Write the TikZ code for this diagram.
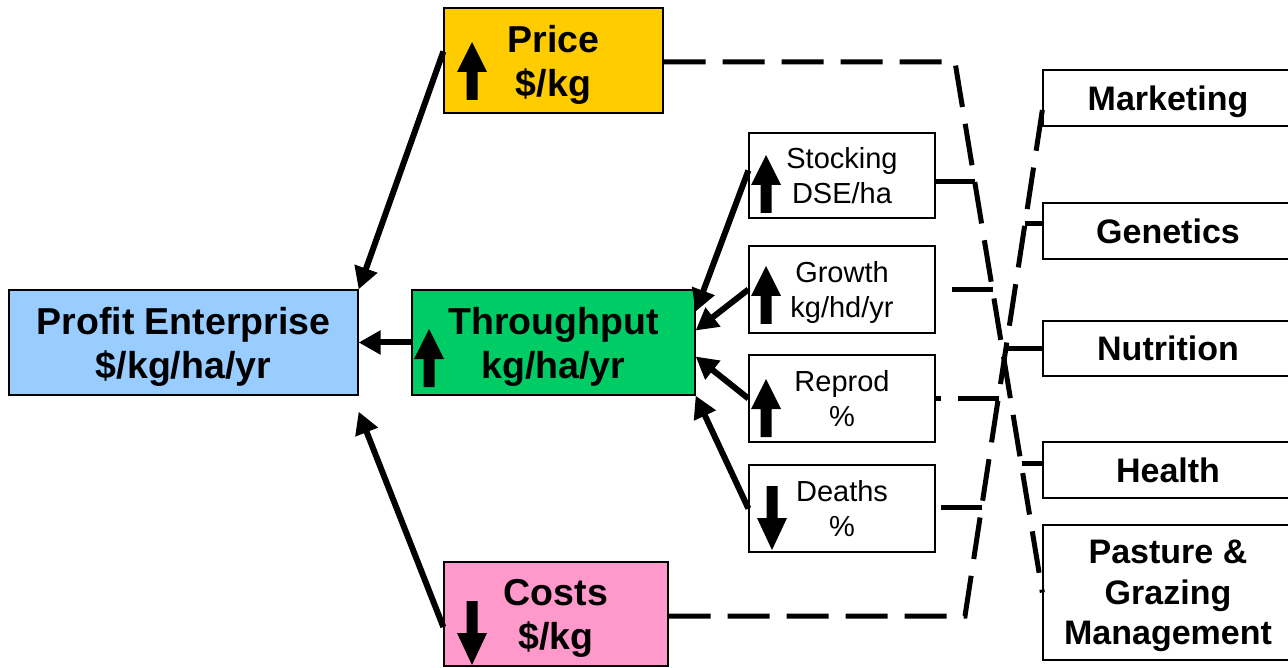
\documentclass[tikz,border=0pt]{standalone}
\usepackage{fontspec}
\setmainfont{Liberation Sans}
\usetikzlibrary{arrows.meta}
\definecolor{profitblue}{HTML}{99CCFF}
\definecolor{priceyellow}{HTML}{FFCC00}
\definecolor{thrugreen}{HTML}{00CC66}
\definecolor{costpink}{HTML}{FF99CC}
\begin{document}
\begin{tikzpicture}[x=1pt,y=-1pt,
  box/.style={draw=black, line width=1.3pt, inner sep=0pt, align=center, text depth=0pt},
  bigtxt/.style={font=\bfseries\fontsize{37.5}{44}\selectfont},
  righttxt/.style={font=\bfseries\fontsize{34}{40.5}\selectfont},
  smalltxt/.style={font=\fontsize{29}{35}\selectfont},
  arr/.style={line width=6pt, -{Triangle[length=22pt,width=23pt]}},
  dashline/.style={line width=5pt, dash pattern=on 42pt off 17pt},
  stub/.style={line width=5pt, dash pattern=on 41pt off 17pt},
  upblk/.pic={\fill (0,0) -- (15,30) -- (5.5,30) -- (5.5,58) -- (-5.5,58) -- (-5.5,30) -- (-15,30) -- cycle;},
  downblk/.pic={\fill (0,0) -- (15,-32) -- (5.5,-32) -- (5.5,-64) -- (-5.5,-64) -- (-5.5,-32) -- (-15,-32) -- cycle;}
]
\clip (0,0) rectangle (1288,668);
\fill[white] (0,0) rectangle (1288,668);

% main boxes
\node[box, bigtxt, fill=profitblue, minimum width=349pt, minimum height=105pt] (profit) at (183.5,342.5) {Profit Enterprise\\\$/kg/ha/yr};
\node[box, bigtxt, fill=thrugreen, minimum width=283pt, minimum height=105pt] (through) at (553.5,342.5) {Throughput\\kg/ha/yr};
\node[box, bigtxt, fill=priceyellow, minimum width=219pt, minimum height=105pt] (price) at (553.5,60.5) {Price\\\$/kg};
\node[box, bigtxt, fill=costpink, minimum width=224pt, minimum height=104pt] (costs) at (556,614) {Costs\\\$/kg};

% driver boxes
\node[box, smalltxt, fill=white, minimum width=186pt, minimum height=85pt] (stock) at (842,175.5) {Stocking\\DSE/ha};
\node[box, smalltxt, fill=white, minimum width=186pt, minimum height=87pt] (growth) at (842,289.5) {Growth\\kg/hd/yr};
\node[box, smalltxt, fill=white, minimum width=186pt, minimum height=87pt] (reprod) at (842,398.5) {Reprod\\\%};
\node[box, smalltxt, fill=white, minimum width=186pt, minimum height=87pt] (deaths) at (842,508.5) {Deaths\\\%};

% right boxes
\node[box, righttxt, fill=white, minimum width=250pt, minimum height=56pt] (marketing) at (1168,98) {Marketing};
\node[box, righttxt, fill=white, minimum width=250pt, minimum height=56pt] (genetics) at (1168,231) {Genetics};
\node[box, righttxt, fill=white, minimum width=250pt, minimum height=55pt] (nutrition) at (1168,348.5) {Nutrition};
\node[box, righttxt, fill=white, minimum width=250pt, minimum height=56pt] (health) at (1168,470) {Health};
\node[box, righttxt, fill=white, minimum width=250pt, minimum height=135pt] (pasture) at (1168,592.5) {Pasture \&\\Grazing\\Management};

% block arrows inside boxes
\pic at (472,42) {upblk};
\pic at (429,329) {upblk};
\pic at (766,155) {upblk};
\pic at (766,266) {upblk};
\pic at (766,379) {upblk};
\pic at (472,665) {downblk};
\pic at (772,550) {downblk};

% solid arrows
\draw[arr] ([yshift=9pt]price.west) -- (profit.north east);
\draw[arr] ([yshift=-13pt]costs.west) -- ([yshift=-16pt]profit.south east);
\draw[arr] (through.west) -- (profit.east);
\draw[arr] ([yshift=5pt]stock.west) -- ([yshift=31pt]through.east);
\draw[arr] (growth.west) -- ([yshift=12pt]through.east);
\draw[arr] (reprod.west) -- ([yshift=-14pt]through.east);
\draw[arr] (deaths.west) -- (through.south east);

% dashed connectors
\coordinate (cA) at (955,62);
\coordinate (cB) at (965,616);
\draw[dashline] ([yshift=-1.5pt]price.east) -- (cA) -- (pasture.west);
\draw[dashline] ([yshift=-2pt]costs.east) -- (cB) -- ([yshift=-12pt]marketing.west);

\coordinate (jS) at (975,182);
\coordinate (jG) at (993,289.5);
\coordinate (jH) at (1021.5,463);
\coordinate (jR) at (998.5,398.5);
\coordinate (jD) at (981.8,507);
\coordinate (jN) at (1006.3,348.5);
\coordinate (jGe) at (1025.4,224);
\draw[stub] (jS) -- ([yshift=-6.5pt]stock.east);
\draw[stub] (jG) -- (growth.east);
\draw[stub] (jR) -- (reprod.east);
\draw[stub] (jD) -- ([yshift=1.5pt]deaths.east);
\draw[stub] (jGe) -- ([yshift=7pt]genetics.west);
\draw[stub] (jN) -- (nutrition.west);
\draw[stub] (jH) -- ([yshift=7pt]health.west);
\end{tikzpicture}
\end{document}
